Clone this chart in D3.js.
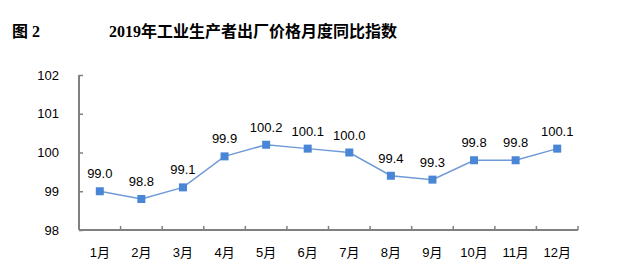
<!DOCTYPE html>
<html>
<head>
<meta charset="utf-8">
<script src="https://d3js.org/d3.v7.min.js"></script>
<style>
  body { margin: 0; background: #fff; }
  svg { display: block; }
</style>
</head>
<body>
<div id="chart"></div>
<script>
const months = ["1月", "2月", "3月", "4月", "5月", "6月", "7月", "8月", "9月", "10月", "11月", "12月"]
const values = [99.0, 98.8, 99.1, 99.9, 100.2, 100.1, 100.0, 99.4, 99.3, 99.8, 99.8, 100.1]
const yTicks = [98, 99, 100, 101, 102]

const w = 617, h = 265
const margin = { top: 75, right: 39, bottom: 35, left: 79 }

const svg = d3.select("#chart").append("svg").attr("width", w).attr("height", h)

const x = d3.scaleBand().domain(months).range([margin.left, w - margin.right])
const y = d3.scaleLinear().domain([98, 102]).range([h - margin.bottom, margin.top])

const cjk = "'Liberation Sans', Arial, 'Noto Sans CJK SC', sans-serif"
const serif = "'Liberation Serif', 'Noto Sans CJK SC', serif"

// titles
svg.append("text").attr("x", 12).attr("y", 37)
    .style("font-family", serif)
    .style("font-weight", "bold").style("font-size", "16px")
    .text("图 2")
svg.append("text").attr("x", 109).attr("y", 37)
    .style("font-family", serif)
    .style("font-weight", "bold").style("font-size", "16px")
    .text("2019年工业生产者出厂价格月度同比指数")

// y axis
const yAxis = d3.axisLeft(y).tickValues(yTicks).tickSize(-4).tickPadding(20).tickFormat(d3.format("d"))
const gy = svg.append("g").attr("transform", "translate(" + margin.left + ",0)").call(yAxis)
gy.select(".domain").remove()
gy.selectAll(".tick line").attr("stroke", "#808080").attr("stroke-width", 1.5)
gy.selectAll("text").style("font-family", cjk).style("font-size", "13px").attr("fill", "#000")

// x axis: ticks at band boundaries, pointing up
const bounds = months.map(m => x(m)).concat([x.range()[1]])
svg.selectAll(".xtick").data(bounds).enter().append("line")
    .attr("x1", d => d).attr("x2", d => d)
    .attr("y1", y(98)).attr("y2", y(98) - 4)
    .attr("stroke", "#808080").attr("stroke-width", 1.5)

svg.append("line")
    .attr("x1", margin.left).attr("x2", x.range()[1])
    .attr("y1", y(98)).attr("y2", y(98))
    .attr("stroke", "#808080").attr("stroke-width", 2)
svg.append("line")
    .attr("x1", margin.left).attr("x2", margin.left)
    .attr("y1", y(102)).attr("y2", y(98))
    .attr("stroke", "#808080").attr("stroke-width", 2)

svg.selectAll(".xlabel").data(months).enter().append("text")
    .attr("x", d => x(d) + x.bandwidth() / 2)
    .attr("y", y(98) + 27)
    .attr("text-anchor", "middle")
    .style("font-family", cjk).style("font-size", "13px")
    .text(d => d)

// line
const cx = (d, i) => x(months[i]) + x.bandwidth() / 2
const line = d3.line().x(cx).y(d => y(d))
svg.append("path").datum(values).attr("d", line)
    .attr("fill", "none").attr("stroke", "#6f9ad8").attr("stroke-width", 1.5)

svg.selectAll(".pt").data(values).enter().append("rect")
    .attr("x", (d, i) => cx(d, i) - 4).attr("y", d => y(d) - 4)
    .attr("width", 8).attr("height", 8)
    .attr("fill", "#4a86d6")

svg.selectAll(".val").data(values).enter().append("text")
    .attr("x", cx).attr("y", d => y(d) - 13)
    .attr("text-anchor", "middle")
    .style("font-family", cjk).style("font-size", "13px")
    .text(d => d.toFixed(1))
</script>
</body>
</html>
